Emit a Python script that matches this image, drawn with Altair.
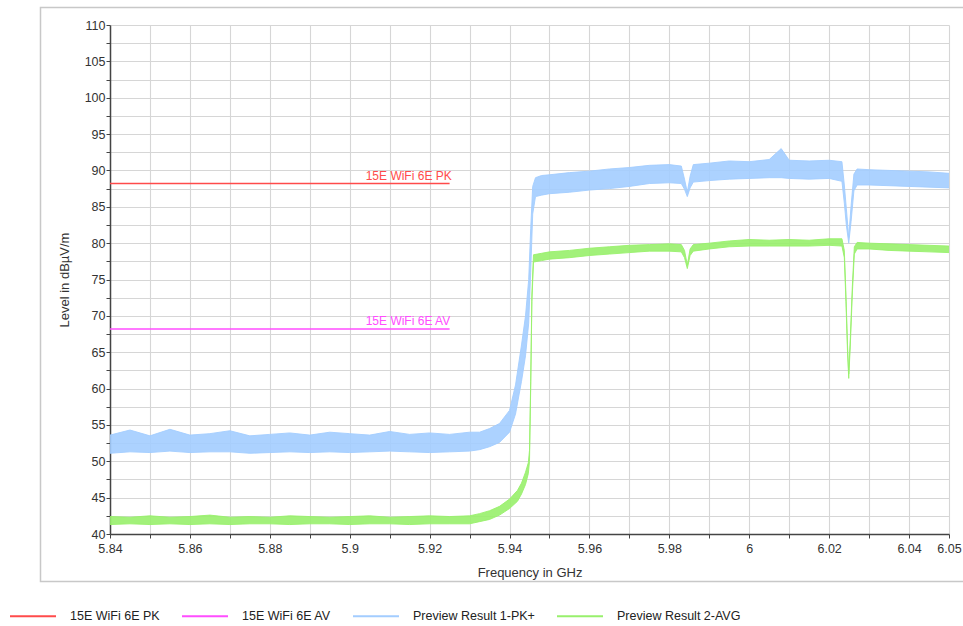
import altair as alt
import pandas as pd

# ---- series and colours -------------------------------------------------
series_names = ["15E WiFi 6E PK", "15E WiFi 6E AV",
                "Preview Result 1-PK+", "Preview Result 2-AVG"]
series_colors = ["#ff4b4b", "#ff4dff", "#a3cdff", "#98f06c"]

# ---- limit lines (dBuV/m) ------------------------------------------------
limit_names = ["15E WiFi 6E PK", "15E WiFi 6E AV"]
limit_start = [5.84, 5.84]
limit_end = [5.925, 5.925]
limit_level = [88.2, 68.2]
limit_label_freq = [5.904, 5.904]

# ---- axis ticks ------------------------------------------------------------
x_ticks = [5.84, 5.85, 5.86, 5.87, 5.88, 5.89, 5.90, 5.91, 5.92, 5.93, 5.94,
           5.95, 5.96, 5.97, 5.98, 5.99, 6.00, 6.01, 6.02, 6.03, 6.04, 6.05]
x_tick_labels = ["5.84", "", "5.86", "", "5.88", "", "5.9", "", "5.92", "",
                 "5.94", "", "5.96", "", "5.98", "", "6", "", "6.02", "",
                 "6.04", "6.05"]
y_ticks = [40, 42.5, 45, 47.5, 50, 52.5, 55, 57.5, 60, 62.5, 65, 67.5, 70,
           72.5, 75, 77.5, 80, 82.5, 85, 87.5, 90, 92.5, 95, 97.5, 100,
           102.5, 105, 107.5, 110]

# ---- Preview Result 1-PK+ : lower / upper edge of the trace ---------------
pk_freq = [5.840, 5.845, 5.850, 5.855, 5.860, 5.865, 5.870, 5.875, 5.880,
           5.885, 5.890, 5.895, 5.900, 5.905, 5.910, 5.915, 5.920, 5.925,
           5.930, 5.9325, 5.935, 5.9375, 5.940, 5.9415, 5.943, 5.944, 5.9448,
           5.9453, 5.9458, 5.9465, 5.948, 5.950, 5.955, 5.960, 5.965, 5.970,
           5.975, 5.980, 5.983, 5.9838, 5.9845, 5.9852, 5.986, 5.990, 5.995,
           6.000, 6.005, 6.008, 6.010, 6.015, 6.020, 6.0232, 6.0238, 6.0243,
           6.0249, 6.0255, 6.0262, 6.027, 6.030, 6.035, 6.040, 6.045, 6.050]
pk_lo = [51.1, 51.3, 51.2, 51.4, 51.2, 51.3, 51.3, 51.1, 51.2, 51.3, 51.2,
         51.3, 51.2, 51.3, 51.4, 51.3, 51.2, 51.3, 51.4, 51.6, 52.0, 52.6,
         54.0, 56.5, 61.0, 64.5, 69.0, 76.0, 84.0, 86.4, 86.6, 86.8, 87.0,
         87.3, 87.5, 87.8, 88.2, 88.3, 88.2, 87.4, 86.4, 87.6, 88.4, 88.6,
         88.8, 88.9, 89.0, 89.0, 88.9, 88.8, 88.9, 88.5, 85.5, 82.5, 80.0,
         83.0, 87.2, 88.0, 88.0, 87.9, 87.8, 87.7, 87.6]
pk_hi = [53.6, 54.3, 53.5, 54.4, 53.6, 53.8, 54.2, 53.5, 53.7, 53.9, 53.6,
         54.0, 53.8, 53.6, 54.1, 53.7, 53.9, 53.7, 54.0, 54.0, 54.5, 55.2,
         57.0, 60.5, 66.0, 70.0, 75.0, 82.0, 87.8, 89.0, 89.3, 89.4, 89.7,
         89.9, 90.2, 90.4, 90.7, 90.8, 90.6, 88.8, 87.0, 89.2, 90.8, 91.0,
         91.3, 91.2, 91.5, 93.0, 91.4, 91.3, 91.4, 91.2, 88.0, 84.8, 80.8,
         85.2, 89.5, 90.2, 90.1, 90.0, 89.9, 89.8, 89.6]

# ---- Preview Result 2-AVG : lower / upper edge of the trace ---------------
av_freq = [5.840, 5.845, 5.850, 5.855, 5.860, 5.865, 5.870, 5.875, 5.880,
           5.885, 5.890, 5.895, 5.900, 5.905, 5.910, 5.915, 5.920, 5.925,
           5.930, 5.9325, 5.935, 5.9375, 5.940, 5.942, 5.943, 5.944, 5.9447,
           5.9450, 5.9453, 5.9456, 5.9460, 5.948, 5.950, 5.955, 5.960, 5.965,
           5.970, 5.975, 5.980, 5.983, 5.9838, 5.9845, 5.9852, 5.986, 5.990,
           5.995, 6.000, 6.005, 6.010, 6.015, 6.020, 6.0232, 6.0238, 6.0242,
           6.0246, 6.0249, 6.0253, 6.0258, 6.0263, 6.027, 6.030, 6.035, 6.040,
           6.045, 6.050]
av_lo = [41.3, 41.4, 41.3, 41.4, 41.3, 41.4, 41.3, 41.4, 41.4, 41.3, 41.4,
         41.4, 41.3, 41.4, 41.4, 41.3, 41.4, 41.4, 41.4,
         41.7, 42.0, 42.6, 43.5, 44.5, 45.5, 46.8, 48.3, 50.0, 60.0, 72.0, 77.4,
         77.6, 77.8, 78.0, 78.3, 78.5, 78.7, 78.9, 78.9, 78.8,
         78.0, 76.5, 78.3, 78.9,
         79.2, 79.5, 79.6, 79.6, 79.6, 79.6, 79.7, 79.6,
         78.0, 72.0, 65.0, 61.4, 66.0, 73.0, 78.5,
         79.2, 79.2, 79.0, 78.9, 78.8, 78.7]
av_hi = [42.4, 42.3, 42.5, 42.3, 42.4, 42.6, 42.3, 42.4, 42.3, 42.5, 42.4,
         42.3, 42.4, 42.5, 42.3, 42.4, 42.5, 42.4, 42.5,
         42.8, 43.2, 43.8, 44.8, 46.0, 47.0, 48.5, 49.8, 51.5, 61.0, 73.0, 78.4,
         78.6, 78.8, 79.0, 79.3, 79.5, 79.7, 79.8, 79.9, 79.8,
         79.0, 77.0, 79.2, 79.8,
         80.0, 80.3, 80.5, 80.4, 80.5, 80.4, 80.6, 80.6,
         79.0, 73.0, 66.0, 62.0, 67.0, 74.0, 79.5,
         80.1, 80.0, 79.9, 79.8, 79.7, 79.6]

# ---- tables ------------------------------------------------------------------
limits = pd.DataFrame({"series": limit_names, "f0": limit_start,
                       "f1": limit_end, "level": limit_level,
                       "label_f": limit_label_freq,
                       "color": series_colors[:2]})

pk = pd.DataFrame({"freq": pk_freq, "lo": pk_lo, "hi": pk_hi})
av = pd.DataFrame({"freq": av_freq, "lo": av_lo, "hi": av_hi})


def edges(df, name):
    lo = pd.DataFrame({"freq": df["freq"], "level": df["lo"], "edge": "lo"})
    hi = pd.DataFrame({"freq": df["freq"], "level": df["hi"], "edge": "hi"})
    out = pd.concat([lo, hi], ignore_index=True)
    out["series"] = name
    return out


traces = pd.concat([edges(pk, series_names[2]), edges(av, series_names[3])],
                   ignore_index=True)

FONT = "Liberation Sans"
WIDTH, HEIGHT = 839, 509

label_array = "[" + ",".join("'%s'" % s for s in x_tick_labels) + "]"
x_scale = alt.Scale(domain=[5.84, 6.05], nice=False, zero=False)
y_scale = alt.Scale(domain=[40, 110], nice=False, zero=False)

x_axis = alt.Axis(values=x_ticks, title="Frequency in GHz",
                  labelExpr=label_array + "[round((datum.value - 5.84) * 100)]",
                  labelFlush=False, labelOverlap=False, labelAngle=0,
                  labelPadding=4, titlePadding=12)
y_axis = alt.Axis(values=y_ticks, title="Level in dBµV/m",
                  labelExpr="datum.value % 5 == 0 ? datum.label : ''",
                  labelOverlap=False, labelPadding=1, titlePadding=13)


def X(field):
    return alt.X(field, scale=x_scale, axis=x_axis)


def Y(field):
    return alt.Y(field, scale=y_scale, axis=y_axis)


color = alt.Color("series:N",
                  scale=alt.Scale(domain=series_names, range=series_colors),
                  legend=alt.Legend(orient="none", legendX=-101, legendY=567,
                                    direction="horizontal", title=None,
                                    symbolType="stroke", symbolSize=2116,
                                    symbolStrokeWidth=2, labelOffset=13,
                                    columnPadding=18, labelFontSize=12.5,
                                    labelFont=FONT, labelColor="#222",
                                    labelLimit=300))

# outer frame around plot and axis titles
frame = alt.Chart(pd.DataFrame({"k": [0]})).mark_rect(
    fill="transparent", stroke="#c8c8c8", strokeWidth=1.5
).encode(x=alt.value(-69.5), x2=alt.value(858),
         y=alt.value(-17.5), y2=alt.value(556.5))

limit_rules = alt.Chart(limits).mark_rule(strokeWidth=1.6).encode(
    x=X("f0:Q"), x2="f1:Q", y=Y("level:Q"), color=color,
)

limit_text = alt.Chart(limits).mark_text(
    align="left", baseline="alphabetic", dy=-4, fontSize=12, font=FONT
).encode(
    x=X("label_f:Q"), y=Y("level:Q"), text="series:N",
    color=alt.Color("color:N", scale=None),
)

pk_band = alt.Chart(pk).mark_area(color=series_colors[2], opacity=0.9).encode(
    x=X("freq:Q"), y=Y("lo:Q"), y2="hi:Q",
)
av_band = alt.Chart(av).mark_area(color=series_colors[3], opacity=0.9).encode(
    x=X("freq:Q"), y=Y("lo:Q"), y2="hi:Q",
)

trace_lines = alt.Chart(traces).mark_line(strokeWidth=0.9).encode(
    x=X("freq:Q"), y=Y("level:Q"), color=color,
    detail="edge:N", order="freq:Q",
)

chart = alt.layer(
    frame, limit_rules, limit_text, pk_band, av_band, trace_lines
).properties(
    width=WIDTH, height=HEIGHT,
    autosize=alt.AutoSizeParams(type="none"),
    padding={"left": 110, "top": 25, "right": 14, "bottom": 92},
    background="white",
).configure_view(
    stroke=None
).configure_axis(
    grid=True, gridColor="#d6d6d6", gridWidth=1.1,
    domainColor="#444", domainWidth=1.5,
    tickColor="#444", tickSize=4, tickWidth=1,
    labelFont=FONT, labelFontSize=12.5, labelColor="#333",
    titleFont=FONT, titleFontSize=13, titleFontWeight="normal",
    titleColor="#333",
)

chart.save("out.html", embed_options={"renderer": "svg", "actions": False})
